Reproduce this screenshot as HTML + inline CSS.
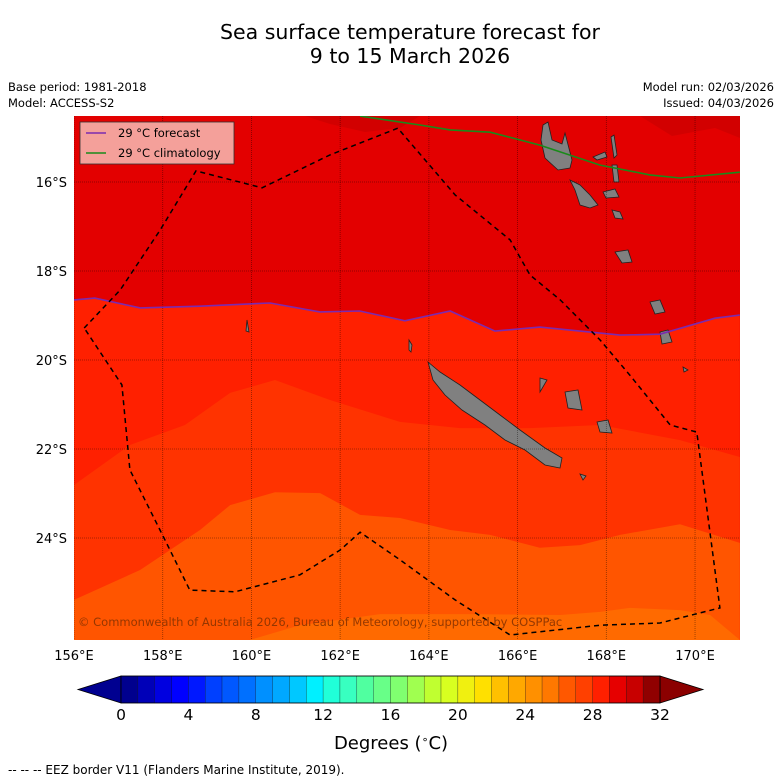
<!DOCTYPE html>
<html><head><meta charset="utf-8">
<style>
body{margin:0;background:#fff;}
svg{display:block;font-family:"DejaVu Sans","Liberation Sans",sans-serif;}
</style></head>
<body>
<svg id="chart" width="781" height="781" viewBox="0 0 781 781" xmlns="http://www.w3.org/2000/svg">
<rect width="781" height="781" fill="#fff"/>
<text x="410" y="39" font-size="20.5" text-anchor="middle">Sea surface temperature forecast for</text>
<text x="410" y="63" font-size="20.5" text-anchor="middle">9 to 15 March 2026</text>
<text x="8" y="91" font-size="11.5">Base period: 1981-2018</text>
<text x="8" y="107" font-size="11.5">Model: ACCESS-S2</text>
<text x="774" y="91" font-size="11.5" text-anchor="end">Model run: 02/03/2026</text>
<text x="774" y="107" font-size="11.5" text-anchor="end">Issued: 04/03/2026</text>
<defs><clipPath id="mapclip"><rect x="74" y="116" width="666" height="524"/></clipPath></defs>
<g id="map" clip-path="url(#mapclip)"></g>
<g id="axes"></g>
<g id="cbar"></g>
<text x="391" y="749" font-size="18" text-anchor="middle">Degrees (<tspan font-size="11" dy="-6">∘</tspan><tspan dy="6">C)</tspan></text>
<text x="8" y="774" font-size="12">--  --  -- EEZ border V11 (Flanders Marine Institute, 2019).</text>
</svg>
<script>
// ---- data ----
const lonTicks = [156,158,160,162,164,166,168,170];
const latTicks = [16,18,20,22,24];
const cbarTicks = [0,4,8,12,16,20,24,28,32];
const cbarColors = ["#00008e","#0000b8","#0000e0","#0000ff","#0018ff","#0040ff","#0058ff","#0070ff","#0090ff","#00a8ff","#00c8ff","#00f0ff","#20ffd8","#38ffc0","#50ffa0","#68ff88","#80ff70","#a0ff50","#c0ff30","#d8ff20","#f0f010","#ffe000","#ffc000","#ffa800","#ff9000","#ff7800","#ff5800","#ff4000","#ff2000","#e60000","#c80000","#900000"];
const forecastLon = [156,156.47,157.49,158.84,160.42,161.54,162.44,163.46,164.48,165.49,166.5,168.31,169.21,170.45,171.01];
const forecastLat = [18.65,18.61,18.83,18.79,18.72,18.92,18.90,19.12,18.90,19.35,19.26,19.44,19.42,19.06,18.99];
const climLon = [162.45,163.8,164.48,165.38,166.5,167.86,168.98,169.66,171.01];
const climLat = [14.52,14.72,14.83,14.88,15.17,15.62,15.84,15.91,15.78];
const eezLon = [156.23,157.04,157.94,158.75,160.24,161.77,163.30,164.59,165.83,166.28,166.96,167.86,168.53,169.44,170.04,170.56,169.21,167.86,165.83,164.59,163.35,162.45,162.0,161.09,159.63,158.61,158.05,157.26,157.08,156.23];
const eezLat = [19.28,18.43,17.08,15.75,16.13,15.39,14.79,16.29,17.30,18.09,18.65,19.55,20.34,21.46,21.62,25.57,25.91,25.96,26.18,25.39,24.49,23.87,24.27,24.83,25.21,25.17,24.04,22.47,20.56,19.28];
const band27Lon = [156,157.26,158.5,159.52,160.53,161.77,163.35,164.7,166.28,167.86,169.66,171.01];
const band27Lat = [22.81,21.91,21.46,20.74,20.45,20.9,21.39,21.53,21.53,21.46,21.8,22.18];
const band26Lon = [156,157.49,158.84,159.52,160.53,161.55,162.45,163.35,164.48,165.38,166.5,167.41,168.31,169.66,171.01];
const band26Lat = [25.39,24.72,23.82,23.26,22.97,22.99,23.48,23.55,23.82,23.93,24.22,24.16,23.93,23.69,24.11];
const band25Lon = [159.97,161.09,162.9,164.93,166.96,167.86,168.53,169.66,170.34,171.01];
const band25Lat = [26.29,25.96,25.71,25.71,25.73,25.66,25.57,25.62,25.73,26.29];

// ---- axis functions ----
const X = lon => 74 + (lon - 156) * 44.36;
const Y = lat => 182 + (lat - 16) * 44.5;
const CX = v => 121 + v * (539 / 32);
const NS = "http://www.w3.org/2000/svg";
function mk(tag, attrs, parent){const e=document.createElementNS(NS,tag);for(const k in attrs)e.setAttribute(k,attrs[k]);parent.appendChild(e);return e;}
function pts(lons,lats){return lons.map((l,i)=>X(l).toFixed(1)+","+Y(lats[i]).toFixed(1)).join(" ");}
const map=document.getElementById("map"), axes=document.getElementById("axes"), cbar=document.getElementById("cbar");

let bg=mk("rect",{x:74,y:116,width:666,height:524,fill:"#e30000"},map);


let d1=mk("polygon",{points:"305,116 330,124 365,132 400,128 420,116",fill:"#d20000"},map);


let d2=mk("polygon",{points:"640,116 672,136 715,128 740,138 740,116",fill:"#d20000"},map);



function band(lons,lats,color,name){
  const p=pts(lons,lats)+" "+X(lons[lons.length-1])+","+Y(27)+" "+X(lons[0])+","+Y(27);
  const e=mk("polygon",{points:p,fill:color},map);
  
  
}
band(forecastLon,forecastLat,"#ff2000","band-28-29");
band(band27Lon,band27Lat,"#ff3300","band-27-28");
band(band26Lon,band26Lat,"#ff5500","band-26-27");
band(band25Lon,band25Lat,"#ff6a00","band-25-26");

const islands=[
"428,362 440,372 460,385 480,400 500,415 520,430 545,448 562,458 560,468 545,465 525,450 505,440 485,425 462,410 445,395 433,380",
"543,125 548,122 552,140 562,144 565,133 572,160 570,168 558,170 545,158 541,140",
"570,180 580,185 590,195 598,205 590,208 580,205 575,190",
"593,157 605,152 607,157 597,160","611,137 614,135 617,155 614,158","612,165 617,165 619,182 614,182",
"603,192 615,189 619,197 606,198","612,210 620,212 623,219 615,218","615,252 628,250 632,262 622,263",
"650,302 660,300 665,312 655,314","660,332 668,330 672,342 662,344","565,392 578,390 582,410 568,408",
"540,378 547,380 540,392","597,422 608,420 612,433 600,432","580,474 586,476 583,480","683,367 688,370 684,372",
"247,320 249,332 246,331","409,340 412,345 411,352 409,350"];
islands.forEach((p,i)=>{const e=mk("polygon",{points:p,fill:"#808080",stroke:"#222","stroke-width":0.8},map);

});

lonTicks.forEach(l=>{const e=mk("line",{x1:X(l),x2:X(l),y1:116,y2:640,stroke:"#000","stroke-opacity":0.45,"stroke-width":0.8,"stroke-dasharray":"1,1"},map);

});
latTicks.forEach(l=>{const e=mk("line",{x1:74,x2:740,y1:Y(l),y2:Y(l),stroke:"#000","stroke-opacity":0.45,"stroke-width":0.8,"stroke-dasharray":"1,1"},map);

});

let fl=mk("polyline",{points:pts(forecastLon,forecastLat),fill:"none",stroke:"#7b2ab0","stroke-width":1.6},map);


let cl=mk("polyline",{points:pts(climLon,climLat),fill:"none",stroke:"#1a8a1a","stroke-width":1.6},map);


let ez=mk("polyline",{points:pts(eezLon,eezLat),fill:"none",stroke:"#000","stroke-width":1.5,"stroke-dasharray":"5,4"},map);



let cp=mk("text",{x:78,y:626,"font-size":11.5,fill:"#8a3300","fill-opacity":0.9},map);
cp.textContent="© Commonwealth of Australia 2026, Bureau of Meteorology, supported by COSPPac";



let lg=mk("g",{},map);


mk("rect",{x:80,y:122,width:154,height:42,fill:"#f4a09a",stroke:"#333","stroke-width":0.8},lg);
mk("line",{x1:86,x2:106,y1:133,y2:133,stroke:"#7b2ab0","stroke-width":1.6},lg);
mk("line",{x1:86,x2:106,y1:153,y2:153,stroke:"#1a8a1a","stroke-width":1.6},lg);
let t1=mk("text",{x:118,y:137,"font-size":11.5},lg);t1.textContent="29 °C  forecast";


let t2=mk("text",{x:118,y:157,"font-size":11.5},lg);t2.textContent="29 °C  climatology";



lonTicks.forEach(l=>{const e=mk("text",{x:X(l),y:660,"font-size":13,"text-anchor":"middle"},axes);e.textContent=l+"°E";

});
latTicks.forEach(l=>{const e=mk("text",{x:67,y:Y(l)+5,"font-size":13,"text-anchor":"end"},axes);e.textContent=l+"°S";

});

const cy=676, ch=27;
let lt=mk("polygon",{points:`${CX(0)},${cy} 78,${cy+ch/2} ${CX(0)},${cy+ch}`,fill:"#000090",stroke:"#000","stroke-width":0.8},cbar);


let rt=mk("polygon",{points:`${CX(32)},${cy} 703,${cy+ch/2} ${CX(32)},${cy+ch}`,fill:"#8b0000",stroke:"#000","stroke-width":0.8},cbar);


cbarColors.forEach((c,i)=>{const e=mk("rect",{x:CX(i),y:cy,width:CX(i+1)-CX(i),height:ch,fill:c,stroke:"#000","stroke-width":0.4,"stroke-opacity":0.6},cbar);

});
mk("rect",{x:CX(0),y:cy,width:CX(32)-CX(0),height:ch,fill:"none",stroke:"#000","stroke-width":0.8},cbar);
cbarTicks.forEach(v=>{const e=mk("text",{x:CX(v),y:720,"font-size":15.5,"text-anchor":"middle"},cbar);e.textContent=v;

});
</script>
</body></html>
